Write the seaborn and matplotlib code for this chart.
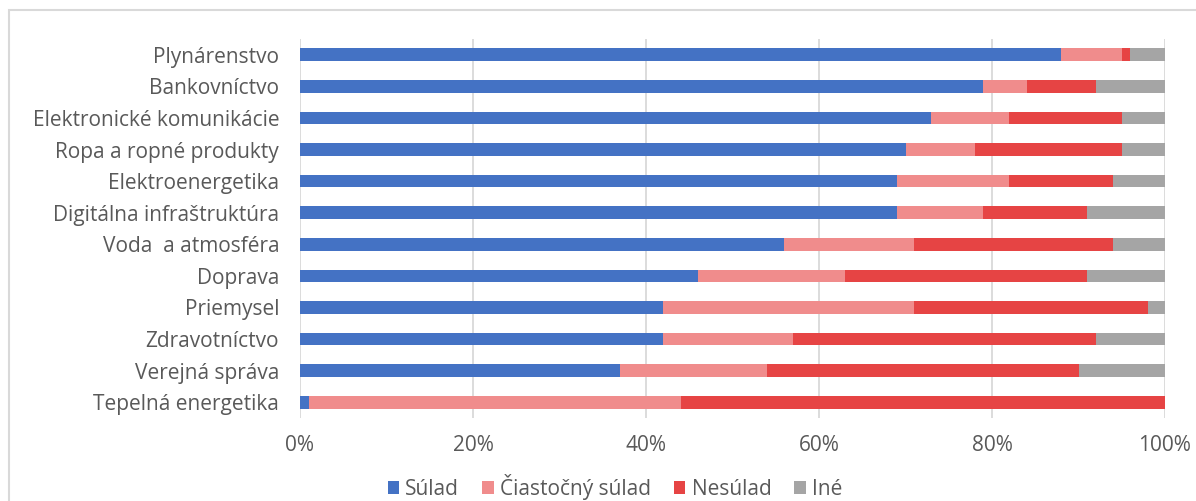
import matplotlib
matplotlib.use("Agg")
import matplotlib.pyplot as plt
import seaborn as sns
import pandas as pd
import numpy as np
from matplotlib.patches import Rectangle, Patch

categories = ["Plynárenstvo", "Bankovníctvo", "Elektronické komunikácie",
              "Ropa a ropné produkty", "Elektroenergetika", "Digitálna infraštruktúra",
              "Voda  a atmosféra", "Doprava", "Priemysel", "Zdravotníctvo",
              "Verejná správa", "Tepelná energetika"]
sulad = [88, 79, 73, 70, 69, 69, 56, 46, 42, 42, 37, 1]
ciastocny = [7, 5, 9, 8, 13, 10, 15, 17, 29, 15, 17, 43]
nesulad = [1, 8, 13, 17, 12, 12, 23, 28, 27, 35, 36, 56]
ine = [4, 8, 5, 5, 6, 9, 6, 9, 2, 8, 10, 0]
series_names = ["Súlad", "Čiastočný súlad", "Nesúlad", "Iné"]
colors = ["#4472C4", "#F08C8C", "#E64444", "#A5A5A5"]
xticks = [0, 20, 40, 60, 80, 100]
xticklabels = ["0%", "20%", "40%", "60%", "80%", "100%"]

sns.set_theme(style="white")
plt.rcParams['font.family'] = ['Open Sans', 'DejaVu Sans']

df = pd.DataFrame({"cat": categories, "s1": sulad, "s2": ciastocny, "s3": nesulad, "s4": ine})
df["c1"] = df["s1"]
df["c2"] = df["c1"] + df["s2"]
df["c3"] = df["c2"] + df["s3"]
df["c4"] = df["c3"] + df["s4"]

fig = plt.figure(figsize=(11.96, 5.01), dpi=100)
ax = fig.add_axes([300/1196, 1-418/501, (1165-300)/1196, (418-39)/501])

for col, color in zip(["c4", "c3", "c2", "c1"], colors[::-1]):
    sns.barplot(data=df, x=col, y="cat", order=categories, color=color,
                width=0.4, orient="h", ax=ax, saturation=1, linewidth=0)

ax.set_xlim(0, 100)
ax.set_xticks(xticks)
ax.set_xticklabels(xticklabels)
ax.set_xlabel("")
ax.set_ylabel("")
ax.xaxis.grid(True, color="#D9D9D9", linewidth=1.3)
ax.set_axisbelow(True)
for s in ax.spines.values():
    s.set_visible(False)
ax.tick_params(axis="y", length=0, pad=15, labelsize=15, labelcolor="#595959")
ax.tick_params(axis="x", length=0, pad=12, labelsize=15, labelcolor="#595959")

handles = [Patch(facecolor=c, edgecolor="none") for c in colors]
fig.legend(handles, series_names, loc="center", bbox_to_anchor=(615/1196, 1-487/501),
           ncol=4, frameon=False, fontsize=15, labelcolor="#595959",
           handlelength=0.55, handleheight=0.55, handletextpad=0.3, columnspacing=1.1)

fig.patches.append(Rectangle((9/1196, -0.2), 1.2, 0.2 + 491/501,
                             transform=fig.transFigure, fill=False,
                             edgecolor="#D9D9D9", linewidth=1.5))

fig.savefig("out.png", dpi=100)
